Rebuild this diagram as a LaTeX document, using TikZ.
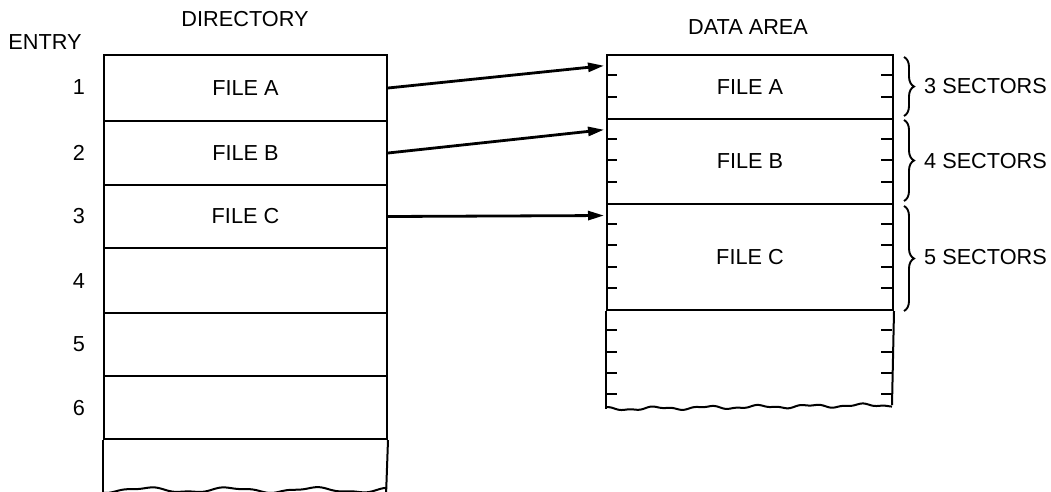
\documentclass[tikz,border=0pt]{standalone}
\usepackage{fontspec}
\setmainfont{Liberation Sans}
\usetikzlibrary{arrows.meta,decorations.pathreplacing}
\begin{document}
\begin{tikzpicture}[x=1pt,y=-1pt,
  lbl/.style={font=\fontsize{21.7}{24}\selectfont, inner sep=0pt},
  row/.style={draw, line width=2pt, anchor=north west, minimum width=283pt, inner sep=0pt, font=\fontsize{21.7}{24}\selectfont},
  drow/.style={draw, line width=2pt, anchor=north west, minimum width=286pt, inner sep=0pt, font=\fontsize{21.7}{24}\selectfont},
  edge/.style={line width=2pt},
  tick/.style={line width=2pt},
  link/.style={line width=2.8pt, shorten >=2pt, -{Triangle[length=16pt,width=9pt]}},
  brc/.style={decorate, decoration={brace, amplitude=10pt}, line width=1.9pt}]
\useasboundingbox (0,0) rectangle (1051,491);

% headings
\node[lbl] (dirh) at (245,19) {DIRECTORY};
\node[lbl] (enth) at (45,42) {ENTRY};
\node[lbl] (datah) at (748,27) {DATA AREA};

% directory rows
\node[row, minimum height=66pt] (d1) at (103,54) {FILE A};
\node[row, minimum height=64pt] (d2) at (103,120) {FILE B};
\node[row, minimum height=63pt] (d3) at (103,184) {FILE C};
\node[row, minimum height=65pt] (d4) at (103,247) {};
\node[row, minimum height=63pt] (d5) at (103,312) {};
\node[row, minimum height=63pt] (d6) at (103,375) {};
\coordinate (d7sw) at (103,496);
\coordinate (d7se) at (386,496);
\draw[edge] (d6.south west) -- (d7sw);
\draw[edge] (d6.south east) -- (d7se);
\draw[edge] plot[domain=103:386, samples=120] (\x, {490+2.2*sin(\x*4.3)+0.8*sin(\x*11)});

% entry numbers
\node[lbl] (e1) at (79,87) {1};
\node[lbl] (e2) at (79,153) {2};
\node[lbl] (e3) at (79,216) {3};
\node[lbl] (e4) at (79,281) {4};
\node[lbl] (e5) at (79,344) {5};
\node[lbl] (e6) at (79,408) {6};

% data area
\node[drow, minimum height=64pt] (a1) at (606,54) {FILE A};
\node[drow, minimum height=85pt] (a2) at (606,118) {FILE B};
\node[drow, minimum height=106pt] (a3) at (606,203) {FILE C};
\coordinate (a4sw) at (606,409);
\coordinate (a4se) at (892,405);
\draw[edge] (a3.south west) -- (a4sw);
\draw[edge] (a3.south east) -- (a4se);
\draw[edge] plot[domain=606:892, samples=150] (\x, {409-4*(\x-606)/286+1.3*sin(\x*7)+0.7*sin(\x*17)});

% sector ticks
\foreach \k in {1,2,4,5,6,8,9,10,11,13,14,15,16} {
  \draw[tick] (606,{54+21.25*\k}) -- ++(11,0);
  \draw[tick] (892,{54+21.25*\k}) -- ++(-11,0);
}

% arrows
\coordinate (t1) at (606,65.5);
\coordinate (t2) at (606,129.5);
\coordinate (t3) at (606,215.5);
\draw[link] (d1.east) -- (t1);
\draw[link] (d2.east) -- (t2);
\draw[link] (d3.east) -- (t3);

% braces
\coordinate (b1t) at (904,57);  \coordinate (b1b) at (904,116);
\coordinate (b2t) at (904,120); \coordinate (b2b) at (904,201);
\coordinate (b3t) at (904,206); \coordinate (b3b) at (904,311);
\draw[brc] (b1t) -- (b1b);
\draw[brc] (b2t) -- (b2b);
\draw[brc] (b3t) -- (b3b);
\node[lbl, anchor=west] (s1) at (924,86) {3 SECTORS};
\node[lbl, anchor=west] (s2) at (924,161) {4 SECTORS};
\node[lbl, anchor=west] (s3) at (924,257) {5 SECTORS};
\end{tikzpicture}
\end{document}
